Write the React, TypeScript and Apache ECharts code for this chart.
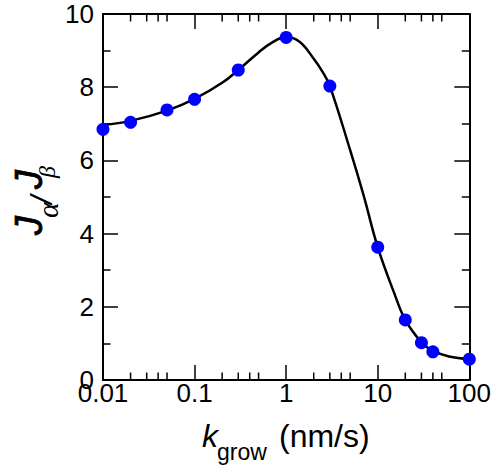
import React, { useEffect, useRef } from "react";
import * as echarts from "echarts";

// Measured points (blue dots)
const kValues = [0.01, 0.02, 0.05, 0.1, 0.3, 1, 3, 10, 20, 30, 40, 100];
const ratioValues = [6.85, 7.04, 7.38, 7.67, 8.47, 9.36, 8.03, 3.63, 1.64, 1.02, 0.77, 0.57];

// Fitted curve (black line)
const fitK = [0.01, 0.02, 0.05, 0.1, 0.2, 0.3, 0.5, 0.7, 1, 1.4, 2, 2.5, 3, 5, 7, 10, 15, 20, 30, 40, 60, 100];
const fitRatio = [6.97, 7.08, 7.36, 7.68, 8.12, 8.47, 8.95, 9.22, 9.37, 9.24, 8.78, 8.42, 8.03, 6.28, 5.05, 3.63, 2.4, 1.64, 1.03, 0.8, 0.64, 0.57];

// Axis ticks
const xMin = 0.01;
const xMax = 100;
const xMinorTicks = [0.02, 0.03, 0.04, 0.05, 0.2, 0.3, 0.4, 0.5, 2, 3, 4, 5, 20, 30, 40, 50];
const yMin = 0;
const yMax = 10;
const yInterval = 2;

const FONT = "'Liberation Sans', Arial, Helvetica, sans-serif";
const SERIF = "'Liberation Serif', 'Times New Roman', serif";

export default function App() {
  const ref = useRef<HTMLDivElement>(null);

  useEffect(() => {
    if (!ref.current) return;
    const chart = echarts.init(ref.current, null, { renderer: "svg" });

    const axisLine = { show: true, onZero: false, lineStyle: { color: "#000", width: 2 } };
    const majorTick = { show: true, inside: true, length: 15, lineStyle: { color: "#000", width: 1.5 } };
    const fmt = (v: number) => String(Number(v.toPrecision(6)));

    const minorTickLen = 7.5;

    chart.setOption({
      animation: false,
      grid: { left: 103, right: 24, top: 14, bottom: 88, containLabel: false },
      xAxis: [
        {
          type: "log",
          logBase: 10,
          min: xMin,
          max: xMax,
          position: "bottom",
          axisLine,
          axisTick: majorTick,
          splitLine: { show: false },
          minorTick: { show: false },
          axisLabel: {
            show: true,
            margin: 0,
            color: "#000",
            fontSize: 26,
            fontFamily: FONT,
            formatter: fmt,
          },
        },
        {
          type: "log",
          logBase: 10,
          min: xMin,
          max: xMax,
          position: "top",
          axisLine,
          axisTick: majorTick,
          splitLine: { show: false },
          axisLabel: { show: false },
        },
      ],
      yAxis: [
        {
          type: "value",
          min: yMin,
          max: yMax,
          interval: yInterval,
          position: "left",
          axisLine,
          axisTick: majorTick,
          minorTick: { show: true, splitNumber: 2, length: minorTickLen, lineStyle: { color: "#000", width: 1.5 } },
          splitLine: { show: false },
          minorSplitLine: { show: false },
          axisLabel: { margin: 9, color: "#000", fontSize: 26, fontFamily: FONT },
        },
        {
          type: "value",
          min: yMin,
          max: yMax,
          interval: yInterval,
          position: "right",
          axisLine,
          axisTick: majorTick,
          minorTick: { show: true, splitNumber: 2, length: minorTickLen, lineStyle: { color: "#000", width: 1.5 } },
          splitLine: { show: false },
          minorSplitLine: { show: false },
          axisLabel: { show: false },
        },
      ],
      series: [
        {
          type: "custom",
          silent: true,
          clip: false,
          xAxisIndex: 0,
          yAxisIndex: 0,
          data: xMinorTicks.map((v) => [v, yMin]),
          renderItem: (_params: any, api: any) => {
            const x = api.value(0);
            const b = api.coord([x, yMin]);
            const t = api.coord([x, yMax]);
            const style = { stroke: "#000", lineWidth: 1.5 };
            return {
              type: "group",
              children: [
                { type: "line", shape: { x1: b[0], y1: b[1], x2: b[0], y2: b[1] - minorTickLen }, style },
                { type: "line", shape: { x1: t[0], y1: t[1], x2: t[0], y2: t[1] + minorTickLen }, style },
              ],
            };
          },
          z: 1,
        },
        {
          type: "line",
          data: fitK.map((k, i) => [k, fitRatio[i]]),
          smooth: 0.4,
          showSymbol: false,
          symbol: "none",
          lineStyle: { color: "#000", width: 2.5 },
          z: 2,
        },
        {
          type: "scatter",
          data: kValues.map((k, i) => [k, ratioValues[i]]),
          symbol: "circle",
          symbolSize: 13,
          itemStyle: { color: "#0000ff", opacity: 1 },
          z: 3,
        },
      ],
      graphic: [
        // x-axis title: k_grow (nm/s)
        {
          type: "text",
          x: 202,
          y: 436,
          style: { text: "k", fontSize: 32, fontStyle: "italic", fontFamily: FONT, fill: "#000", textAlign: "left", textVerticalAlign: "middle" },
        },
        {
          type: "text",
          x: 217,
          y: 452,
          style: { text: "grow", fontSize: 23, fontFamily: FONT, fill: "#000", textAlign: "left", textVerticalAlign: "middle" },
        },
        {
          type: "text",
          x: 279,
          y: 436,
          style: { text: "(nm/s)", fontSize: 32, fontFamily: FONT, fill: "#000", textAlign: "left", textVerticalAlign: "middle" },
        },
        // y-axis title: J_alpha / J_beta (rotated)
        {
          type: "group",
          x: 0,
          y: 233,
          rotation: Math.PI / 2,
          children: [
            { type: "text", x: -2, y: 29, style: { text: "J", fontSize: 38, fontStyle: "italic", fontFamily: FONT, fill: "#000", stroke: "#000", lineWidth: 0.8, textAlign: "left", textVerticalAlign: "middle" } },
            { type: "text", x: 15, y: 47, style: { text: "α", fontSize: 30, fontStyle: "italic", fontFamily: SERIF, fill: "#000", textAlign: "left", textVerticalAlign: "middle" } },
            { type: "text", x: 29, y: 41, style: { text: "/", fontSize: 30, fontStyle: "italic", fontFamily: FONT, fill: "#000", textAlign: "left", textVerticalAlign: "middle" } },
            { type: "text", x: 44, y: 29, style: { text: "J", fontSize: 38, fontStyle: "italic", fontFamily: FONT, fill: "#000", stroke: "#000", lineWidth: 0.8, textAlign: "left", textVerticalAlign: "middle" } },
            { type: "text", x: 55, y: 47, style: { text: "β", fontSize: 24, fontStyle: "italic", fontFamily: SERIF, fill: "#000", textAlign: "left", textVerticalAlign: "middle" } },
          ],
        },
      ],
    });

    return () => chart.dispose();
  }, []);

  return (
    <div
      ref={ref}
      style={{ position: "fixed", left: 0, top: 0, width: 494, height: 468, background: "#fff" }}
    />
  );
}
